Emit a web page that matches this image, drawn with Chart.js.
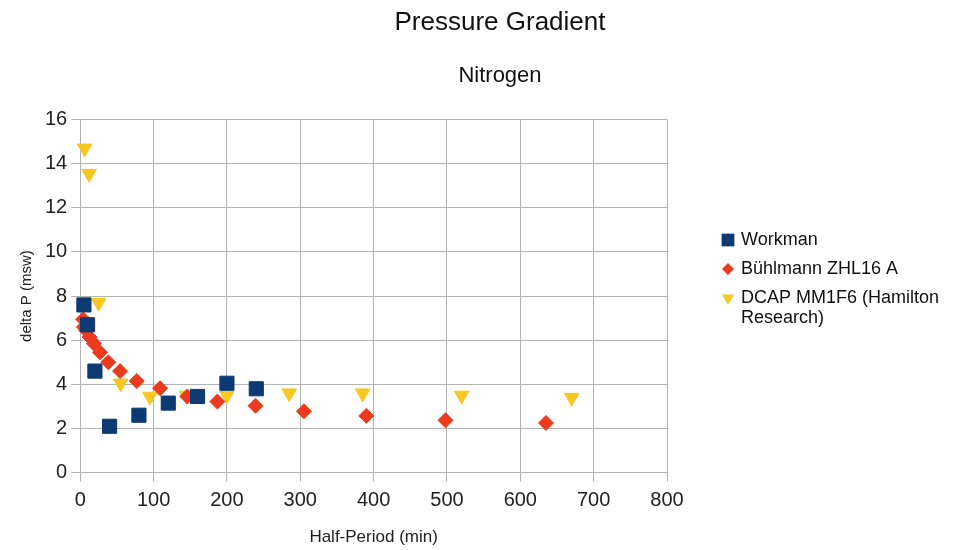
<!DOCTYPE html>
<html>
<head>
<meta charset="utf-8">
<title>Pressure Gradient</title>
<script src="https://cdn.jsdelivr.net/npm/chart.js@4.4.1/dist/chart.umd.min.js"></script>
<style>
  html, body { margin: 0; padding: 0; background: #fff; }
  #wrap { width: 971px; height: 550px; position: relative; }
</style>
</head>
<body>
<div id="wrap"><canvas id="gradientChart"></canvas></div>
<script>
// Data (half-period dalam menit, delta P dalam msw)
const workmanX = [5, 10, 20, 40, 80, 120, 160, 200, 240];
const workmanY = [7.6, 6.7, 4.6, 2.1, 2.6, 3.15, 3.45, 4.05, 3.8];

const buhlmannX = [4, 5, 8, 12.5, 18.5, 27, 38.3, 54.3, 77, 109, 146, 187, 239, 305, 390, 498, 635];
const buhlmannY = [6.95, 6.6, 6.45, 6.15, 5.85, 5.45, 5.0, 4.6, 4.15, 3.82, 3.45, 3.22, 3.03, 2.78, 2.57, 2.37, 2.25];

const dcapX = [6, 12, 25, 55, 95, 145, 200, 285, 385, 520, 670];
const dcapY = [14.7, 13.55, 7.7, 4.05, 3.45, 3.5, 3.5, 3.6, 3.6, 3.5, 3.4];

const seriesNames = ['Workman', 'Bühlmann ZHL16 A', 'DCAP MM1F6 (Hamilton Research)'];
const xTicks = [0, 100, 200, 300, 400, 500, 600, 700, 800];
const yTicks = [0, 2, 4, 6, 8, 10, 12, 14, 16];

document.addEventListener('DOMContentLoaded', function () {
  Chart.defaults.font.family = '"Liberation Sans", Arial, sans-serif';
  Chart.defaults.color = '#222';

  const gridColor = '#b3b3b3';

  function toPoints(xs, ys) {
    return xs.map((x, i) => ({ x: x, y: ys[i] }));
  }

  // Legenda sendiri, supaya teks panjang bisa dibungkus ke dua baris
  const wrappedLegend = {
    id: 'wrappedLegend',
    afterDraw(chart) {
      const ctx = chart.ctx;
      const markerX = chart.chartArea.right + 61;
      const textX = markerX + 13;
      const maxWidth = chart.width - textX + 2;
      let y = 240;

      ctx.save();
      ctx.font = '18px "Liberation Sans", Arial, sans-serif';
      ctx.textBaseline = 'middle';
      ctx.textAlign = 'left';

      chart.data.datasets.forEach(ds => {
        ctx.fillStyle = ds.backgroundColor;
        Chart.helpers.drawPoint(ctx, {
          pointStyle: ds.pointStyle,
          rotation: ds.rotation || 0,
          radius: ds.legendRadius,
          borderWidth: 0
        }, markerX, y);

        // bungkus teks
        const words = ds.label.split(' ');
        const lines = [];
        let line = '';
        words.forEach(w => {
          const test = line ? line + ' ' + w : w;
          if (ctx.measureText(test).width > maxWidth && line) {
            lines.push(line);
            line = w;
          } else {
            line = test;
          }
        });
        lines.push(line);

        ctx.fillStyle = '#111';
        lines.forEach((l, i) => ctx.fillText(l, textX, y + i * 20));
        y += 29 + (lines.length - 1) * 20;
      });
      ctx.restore();
    }
  };

  const ctx = document.getElementById('gradientChart').getContext('2d');
  new Chart(ctx, {
    type: 'scatter',
    data: {
      datasets: [{
        label: seriesNames[0],
        data: toPoints(workmanX, workmanY),
        pointStyle: 'rect',
        pointRadius: 10,
        legendRadius: 9,
        backgroundColor: '#0d3a72',
        borderColor: '#0d3a72',
        borderWidth: 1,
        clip: false
      }, {
        label: seriesNames[1],
        data: toPoints(buhlmannX, buhlmannY),
        pointStyle: 'rectRot',
        pointRadius: 7.5,
        legendRadius: 6,
        backgroundColor: '#ec3a1e',
        borderColor: '#ec3a1e',
        borderWidth: 1,
        clip: false
      }, {
        label: seriesNames[2],
        data: toPoints(dcapX, dcapY),
        pointStyle: 'triangle',
        rotation: 180,
        pointRotation: 180,
        pointRadius: 8.5,
        legendRadius: 7,
        backgroundColor: '#f5c823',
        borderColor: '#f5c823',
        borderWidth: 1,
        clip: false
      }]
    },
    options: {
      responsive: true,
      maintainAspectRatio: false,
      animation: false,
      events: [],
      layout: {
        padding: { left: 0, right: -29, top: 0, bottom: 0 }
      },
      plugins: {
        legend: { display: false },
        tooltip: { enabled: false },
        title: {
          display: true,
          text: 'Pressure Gradient',
          color: '#111',
          font: { size: 26, weight: 'normal' },
          padding: { top: 7, bottom: 0 }
        },
        subtitle: {
          display: true,
          text: 'Nitrogen',
          color: '#111',
          font: { size: 22, weight: 'normal' },
          padding: { top: 25, bottom: 30 }
        }
      },
      scales: {
        x: {
          type: 'linear',
          min: xTicks[0],
          max: xTicks[xTicks.length - 1],
          afterBuildTicks: scale => { scale.ticks = xTicks.map(v => ({ value: v })); },
          ticks: { font: { size: 20 }, padding: 7, color: '#222' },
          grid: { color: gridColor, tickLength: 9 },
          border: { color: gridColor },
          title: {
            display: true,
            text: 'Half-Period (min)',
            color: '#222',
            font: { size: 17 },
            padding: { top: 8, bottom: 2 }
          }
        },
        y: {
          type: 'linear',
          min: yTicks[0],
          max: yTicks[yTicks.length - 1],
          afterBuildTicks: scale => { scale.ticks = yTicks.map(v => ({ value: v })); },
          ticks: { font: { size: 20 }, padding: 4, color: '#222' },
          grid: { color: gridColor, tickLength: 9 },
          border: { color: gridColor },
          title: {
            display: true,
            text: 'delta P (msw)',
            color: '#222',
            font: { size: 15 },
            padding: { top: 18, bottom: 5 }
          }
        },
        // sumbu kosong di kanan, hanya untuk memberi tempat legenda
        legendSpace: {
          type: 'linear',
          position: 'right',
          display: true,
          ticks: { display: false },
          grid: { display: false },
          border: { display: false },
          afterFit: scale => { scale.width = 333; }
        }
      }
    },
    plugins: [wrappedLegend]
  });
});
</script>
</body>
</html>
